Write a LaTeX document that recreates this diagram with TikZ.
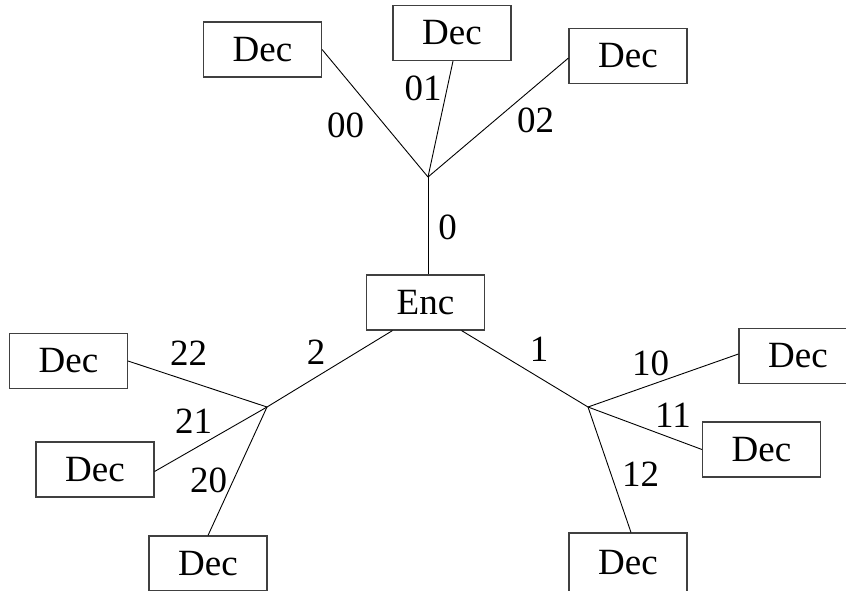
\documentclass[tikz,border=0pt]{standalone}
\usepackage{fontspec}
\setmainfont{Liberation Serif}
\begin{document}
\begin{tikzpicture}[x=1pt,y=-1pt,
  every node/.style={font=\fontsize{37}{40}\selectfont},
  box/.style={draw=black!75, line width=1.1pt, rectangle, inner sep=0pt,
              minimum width=118pt, minimum height=55pt},
  lbl/.style={inner sep=0pt},
  wire/.style={line width=0.9pt, black}]
  \useasboundingbox (0,0) rectangle (846,590);

  % encoder and decoder boxes
  \node[box] (enc) at (425.5,302.5) {Enc};
  \node[box] (d00) at (262.5,49.5) {Dec};
  \node[box] (d01) at (452,33) {Dec};
  \node[box] (d02) at (628,56) {Dec};
  \node[box] (d10) at (798,356) {Dec};
  \node[box] (d11) at (761.5,449.5) {Dec};
  \node[box, minimum height=60pt] (d12) at (628,563) {Dec};
  \node[box] (d20) at (208,563.5) {Dec};
  \node[box] (d21) at (95,469.5) {Dec};
  \node[box] (d22) at (68.5,361) {Dec};

  % branch points
  \coordinate (j0) at (428,177);
  \coordinate (j1) at (588,407);
  \coordinate (j2) at (267,407);

  % connectors
  \draw[wire] (j0) -- (j0 |- enc.north);
  \draw[wire] (j0) -- (d00.east);
  \draw[wire] (j0) -- ([xshift=1pt]d01.south);
  \draw[wire] (j0) -- ([yshift=-2pt]d02.west);
  \draw[wire] ([xshift=-33pt]enc.south) -- (j2);
  \draw[wire] ([xshift=36pt]enc.south) -- (j1);
  \draw[wire] (j2) -- (d22.east);
  \draw[wire] (j2) -- ([yshift=-2pt]d21.east);
  \draw[wire] (j2) -- (d20.north);
  \draw[wire] (j1) -- ([yshift=2pt]d10.west);
  \draw[wire] (j1) -- (d11.west);
  \draw[wire] (j1) -- ([xshift=3pt]d12.north);

  % branch labels
  \node[lbl] (l0)  at (447.5,227) {0};
  \node[lbl] (l00) at (345.5,125) {00};
  \node[lbl] (l01) at (423,88.5) {01};
  \node[lbl] (l02) at (535.5,120.5) {02};
  \node[lbl] (l1)  at (539,349) {1};
  \node[lbl] (l10) at (650.5,363.5) {10};
  \node[lbl] (l11) at (673,415) {11};
  \node[lbl] (l12) at (640.5,474) {12};
  \node[lbl] (l2)  at (316,352) {2};
  \node[lbl] (l20) at (208.5,480) {20};
  \node[lbl] (l21) at (193.5,421.5) {21};
  \node[lbl] (l22) at (188.5,353.5) {22};
\end{tikzpicture}
\end{document}
